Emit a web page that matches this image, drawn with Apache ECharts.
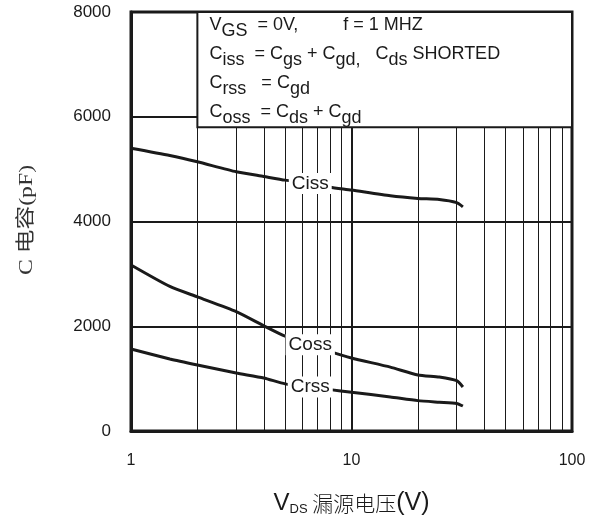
<!DOCTYPE html>
<html>
<head>
<meta charset="utf-8">
<script src="https://cdn.jsdelivr.net/npm/echarts@6/dist/echarts.min.js"></script>
<style>
  html, body { margin: 0; padding: 0; background: #fff; }
  #chart { width: 589px; height: 522px; }
</style>
</head>
<body>
<div id="chart"></div>
<script>
// Drain-source voltage samples (V) and capacitance readings (pF)
const vds  = [1, 1.5, 2, 3, 4, 5, 6.5, 8, 10, 15, 20, 25, 30, 32];
const ciss = [5400, 5260, 5140, 4950, 4860, 4790, 4725, 4655, 4600, 4490, 4440, 4420, 4360, 4280];
const coss = [3170, 2760, 2560, 2280, 2010, 1810, 1645, 1515, 1394, 1220, 1070, 1030, 960, 840];
const crss = [1566, 1375, 1260, 1107, 1012, 900, 840, 790, 740, 650, 580, 550, 527, 477];
const curveNames = ['Ciss', 'Coss', 'Crss'];
const labelIndex = 6;   // sample where the curve name sits on the line

// Axis ticks
const yTicks = [0, 2000, 4000, 6000, 8000];
const xMinorLines = [2, 3, 4, 5, 6, 7, 8, 9, 20, 30, 40, 50, 60, 70, 80, 90];

// Test-condition box extent (V, pF)
const boxFrom = [2, 5800];
const boxTo = [100, 8000];

const INK = '#1a1a1a';
const SANS = '"Liberation Sans", Arial, Helvetica, sans-serif';

function curve(name, ys) {
  return {
    name: name,
    type: 'line',
    z: 3,
    data: vds.map((x, i) => [x, ys[i]]),
    smooth: 0.2,
    symbol: 'none',
    lineStyle: { color: INK, width: 3 },
    silent: true,
    markPoint: {
      z: 10,
      silent: true,
      symbol: 'circle',
      symbolSize: 1,
      itemStyle: { color: 'rgba(0,0,0,0)' },
      label: {
        show: true,
        position: 'inside',
        formatter: name,
        fontFamily: SANS,
        fontSize: 19,
        color: INK,
        backgroundColor: '#fff',
        padding: [1, 3, 1, 3]
      },
      data: [{ coord: [vds[labelIndex], ys[labelIndex]] }]
    }
  };
}

const conditions = [
  '{m|V}{s|GS}{m|  = 0V,         f = 1 MHZ}',
  '{m|C}{s|iss}{m|  = C}{s|gs}{m| + C}{s|gd,}{m|   C}{s|ds}{m| SHORTED}',
  '{m|C}{s|rss}{m|   = C}{s|gd}',
  '{m|C}{s|oss}{m|  = C}{s|ds}{m| + C}{s|gd}'
].join('\n');

const chart = echarts.init(document.getElementById('chart'), null, { renderer: 'canvas' });

chart.setOption({
  animation: false,
  backgroundColor: '#fff',
  grid: {
    left: 131, right: 17, top: 12, bottom: 91,
    show: true, borderColor: INK, borderWidth: 3
  },
  xAxis: {
    type: 'log',
    logBase: 10,
    min: 1,
    max: 100,
    axisLine: { show: true, lineStyle: { color: INK, width: 3 } },
    axisTick: { show: false },
    axisLabel: { fontFamily: SANS, fontSize: 16, color: INK, margin: 22 },
    splitLine: { show: true, lineStyle: { color: INK, width: 2 } },
    name: '{v|V}{ds|DS}{cn| 漏源电压}{p|(V)}',
    nameLocation: 'middle',
    nameGap: 60,
    nameTextStyle: {
      rich: {
        v: { fontFamily: SANS, fontSize: 24, color: INK },
        ds: { fontFamily: SANS, fontSize: 13, color: INK, verticalAlign: 'bottom', lineHeight: 21 },
        cn: { fontFamily: '"Noto Sans CJK SC", sans-serif', fontSize: 21, color: INK, fontWeight: 300 },
        p: { fontFamily: SANS, fontSize: 25, color: INK }
      }
    }
  },
  yAxis: {
    type: 'value',
    min: yTicks[0],
    max: yTicks[yTicks.length - 1],
    interval: 2000,
    axisLine: { show: true, lineStyle: { color: INK, width: 3 } },
    axisTick: { show: false },
    axisLabel: { fontFamily: SANS, fontSize: 17, color: INK, margin: 20, formatter: v => String(v) },
    splitLine: { show: true, lineStyle: { color: INK, width: 2 } }
  },
  graphic: [{
    // vertical axis title, set in a tall narrow face
    type: 'text',
    x: 27,
    y: 220,
    rotation: Math.PI / 2,
    scaleX: 1.25,
    style: {
      text: 'C 电容(pF)',
      align: 'center',
      verticalAlign: 'middle',
      fontFamily: '"Liberation Serif", "Noto Sans CJK SC", serif',
      fontSize: 19,
      fill: '#333'
    }
  }],
  series: [
    {
      // thin vertical lines for the intermediate decade values
      name: 'minor',
      type: 'line',
      z: 1,
      data: [],
      silent: true,
      markLine: {
        z: 1,
        silent: true,
        symbol: 'none',
        label: { show: false },
        lineStyle: { color: INK, width: 1, type: 'solid' },
        data: xMinorLines.map(v => ({ xAxis: v }))
      }
    },
    {
      name: 'conditions',
      type: 'line',
      z: 2,
      data: [],
      silent: true,
      markArea: {
        z: 4,
        silent: true,
        itemStyle: { color: '#fff', opacity: 1, borderColor: INK, borderWidth: 2 },
        label: {
          show: true,
          position: 'insideTopLeft',
          distance: 0,
          padding: [0, 0, 0, 13],
          formatter: conditions,
          rich: {
            m: { fontFamily: SANS, fontSize: 18, color: INK, lineHeight: 29 },
            s: { fontFamily: SANS, fontSize: 18, color: INK, lineHeight: 23, verticalAlign: 'bottom' }
          }
        },
        data: [[
          { xAxis: boxFrom[0], yAxis: boxFrom[1] },
          { xAxis: boxTo[0], yAxis: boxTo[1] }
        ]]
      }
    },
    curve(curveNames[0], ciss),
    curve(curveNames[1], coss),
    curve(curveNames[2], crss)
  ]
});
</script>
</body>
</html>
